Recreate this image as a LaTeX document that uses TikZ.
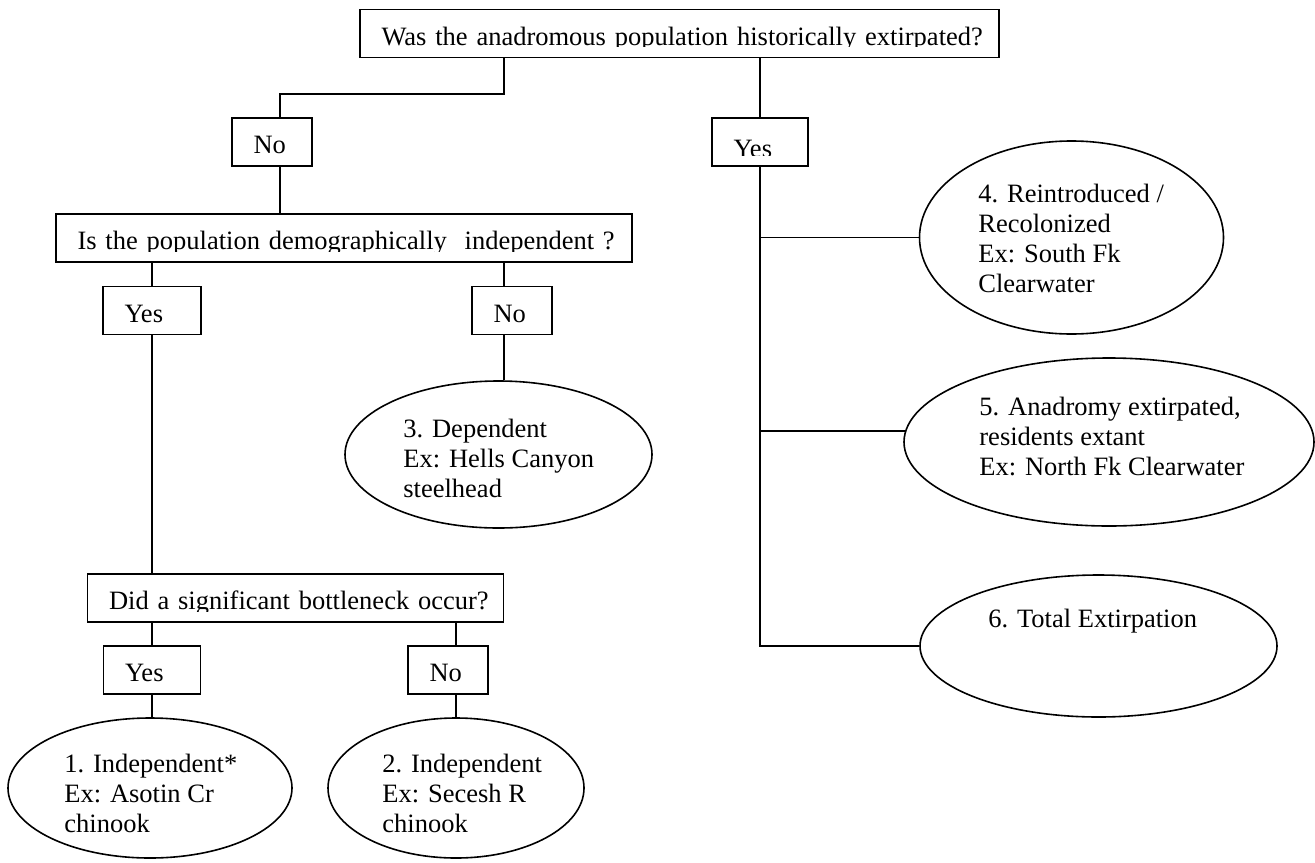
\documentclass[tikz,border=0pt]{standalone}
\usepackage{fontspec}
\setmainfont{Liberation Serif}
\usetikzlibrary{shapes.geometric}
\newcommand\firstln{\rule{0pt}{11pt}}
\begin{document}
\begin{tikzpicture}[x=0.5pt,y=-0.5pt,
  font=\fontsize{13.25pt}{15pt}\selectfont,
  line/.style={line width=0.9pt},
  qbox/.style={draw, line width=0.9pt, rectangle, inner xsep=10.75pt, inner ysep=0pt,
    minimum height=24pt, text height=12pt, text depth=0.5pt, align=left},
  oval/.style={draw, ellipse, line width=0.8pt, inner sep=0pt},
  etext/.style={anchor=north west, inner sep=0pt, align=left},
  mask/.style={fill=white, draw=none}]
\useasboundingbox (0,0) rectangle (1315,862);

% question and answer boxes
\node[qbox, text width=298pt] (q1) at (679.5,33.5) {\mbox{Was the anadromous population historically extirpated?}};
\node[qbox, text width=18.5pt] (no1) at (272,142) {No};
\node[qbox, text width=26.5pt, text height=16pt] (yes1) at (760,142) {Yes};
\node[qbox, text width=266.5pt] (q2) at (344,238) {\mbox{Is the population demographically\ \ independent ?}};
\node[qbox, text width=27.5pt] (yes2) at (152,310.5) {Yes};
\node[qbox, text width=18.5pt] (no2) at (512,310.5) {No};
\node[qbox, text width=186.5pt] (q3) at (295.5,598) {\mbox{Did a significant bottleneck occur?}};
\node[qbox, text width=27pt] (yes3) at (152,670) {Yes};
\node[qbox, text width=18.5pt] (no3) at (448,670) {No};

% clipped descenders
\fill[mask] ([xshift=1pt,yshift=1pt]q1.south west) rectangle ([xshift=-1pt,yshift=5.5pt]q1.south east);
\fill[mask] ([xshift=1pt,yshift=1pt]q2.south west) rectangle ([xshift=-1pt,yshift=5.5pt]q2.south east);
\fill[mask] ([xshift=1pt,yshift=1pt]q3.south west) rectangle ([xshift=-1pt,yshift=5.5pt]q3.south east);
\fill[mask] ([xshift=1pt,yshift=1pt]yes1.south west) rectangle ([xshift=-1pt,yshift=5.25pt]yes1.south east);

% outcome ellipses
\node[oval, minimum width=142pt, minimum height=70pt] (ell1) at (150,788) {};
\node[oval, minimum width=128pt, minimum height=70pt] (ell2) at (456,788) {};
\node[oval, minimum width=153.5pt, minimum height=73.5pt] (ell3) at (498.5,454.5) {};
\node[oval, minimum width=152pt, minimum height=96.5pt] (ell4) at (1071.5,237.5) {};
\node[oval, minimum width=205pt, minimum height=84pt] (ell5) at (1109,442) {};
\node[oval, minimum width=178.5pt, minimum height=71pt] (ell6) at (1098.5,646) {};

\node[etext] (t1) at (64,750) {\firstln 1. Independent*\\Ex: Asotin Cr\\chinook};
\node[etext] (t2) at (382,750) {\firstln 2. Independent\\Ex: Secesh R\\chinook};
\node[etext] (t3) at (403,415) {\firstln 3. Dependent\\Ex: Hells Canyon\\steelhead};
\node[etext] (t4) at (978,180) {\firstln 4. Reintroduced /\\Recolonized\\Ex: South Fk\\Clearwater};
\node[etext] (t5) at (979,393) {\firstln 5. Anadromy extirpated,\\residents extant\\Ex: North Fk Clearwater};
\node[etext] (t6) at (988,605) {\firstln 6. Total Extirpation};

% connectors
\coordinate (ka) at (504,94);
\coordinate (kb) at (280,94);
\coordinate (xm) at (504,0);
\coordinate (xn) at (456,0);
\draw[line] (q1.south -| ka) -- (ka) -- (kb) -- (no1.north -| kb);
\draw[line] (no1.south -| kb) -- (q2.north -| kb);
\draw[line] (q1.south -| yes1.north) -- (yes1.north);
\draw[line] (q2.south -| yes2.north) -- (yes2.north);
\draw[line] (q2.south -| xm) -- (no2.north -| xm);
\draw[line] (no2.south -| xm) -- (ell3.north -| xm);
\draw[line] (yes2.south) -- (q3.north -| yes2.south);
\draw[line] (q3.south -| yes3.north) -- (yes3.north);
\draw[line] (yes3.south) -- (ell1.north -| yes3.south);
\draw[line] (q3.south -| xn) -- (no3.north -| xn);
\draw[line] (no3.south -| xn) -- (ell2.north);
\draw[line] (yes1.south) -- (yes1.south |- ell6.west) -- (ell6.west);
\draw[line] (yes1.south |- ell4.west) -- (ell4.west);
\draw[line] (yes1.south |- ell5.177) -- (ell5.177);
\end{tikzpicture}
\end{document}
